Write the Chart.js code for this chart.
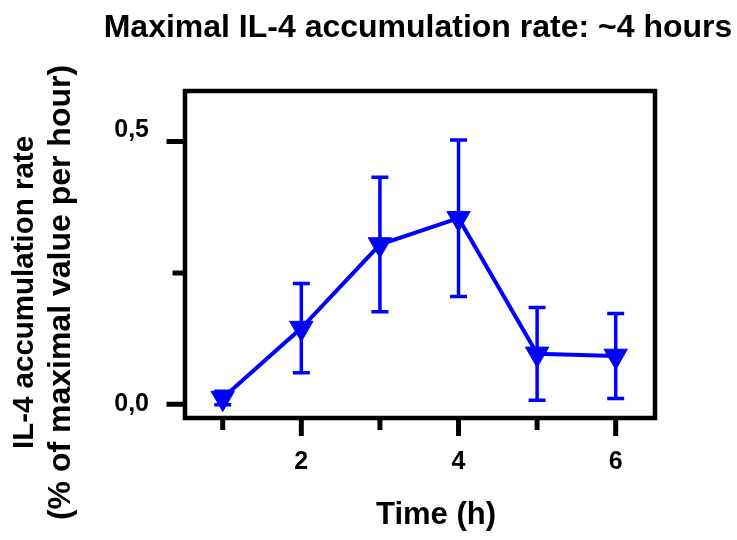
<!DOCTYPE html>
<html>
<head>
<meta charset="utf-8">
<script src="https://cdn.jsdelivr.net/npm/chart.js@4.4.1/dist/chart.umd.min.js"></script>
<style>
  html, body { margin: 0; padding: 0; background: #fff; }
</style>
</head>
<body>
<canvas id="chart" width="737" height="540"></canvas>
<script>
// data
const hours = [1, 2, 3, 4, 5, 6];
const rate = [0.012, 0.145, 0.304, 0.354, 0.096, 0.092];
const rateErr = [0.013, 0.085, 0.128, 0.149, 0.088, 0.081];
const xTicks = [1, 2, 3, 4, 5, 6];
const xLabels = ['', '2', '', '4', '', '6'];
const yTicks = [0, 0.25, 0.5];
const yLabels = ['0,0', '', '0,5'];

const titleText = 'Maximal IL-4 accumulation rate: ~4 hours';
const xTitle = 'Time (h)';
const yTitle = ['IL-4 accumulation rate', '(% of maximal value per hour)'];

const blue = '#0000ff';
const fam = '"Liberation Sans", Arial, Helvetica, sans-serif';

// tick label font
Chart.defaults.font.family = fam;
Chart.defaults.font.size = 25;
Chart.defaults.font.weight = 'bold';
Chart.defaults.font.lineHeight = 0.9;
Chart.defaults.color = '#000';

// box, tick marks, error bars and titles
const decor = {
  id: 'decor',
  afterDatasetsDraw(chart) {
    const { ctx, scales: { x, y } } = chart;
    ctx.save();
    ctx.strokeStyle = blue;
    ctx.lineWidth = 3.5;
    hours.forEach((h, i) => {
      const px = x.getPixelForValue(h);
      const top = y.getPixelForValue(rate[i] + rateErr[i]);
      const bot = y.getPixelForValue(rate[i] - rateErr[i]);
      ctx.beginPath();
      ctx.moveTo(px, top); ctx.lineTo(px, bot);
      ctx.moveTo(px - 8.5, top); ctx.lineTo(px + 8.5, top);
      ctx.moveTo(px - 8.5, bot); ctx.lineTo(px + 8.5, bot);
      ctx.stroke();
    });
    ctx.restore();
  },
  afterDraw(chart) {
    const { ctx, chartArea: a, scales: { x, y } } = chart;
    ctx.save();
    ctx.strokeStyle = '#000';
    ctx.lineWidth = 4.5;
    ctx.strokeRect(a.left, a.top, a.right - a.left, a.bottom - a.top);

    ctx.lineWidth = 5;
    ctx.beginPath();
    yTicks.forEach((v, i) => {
      const py = y.getPixelForValue(v);
      const len = yLabels[i] ? 18.5 : 12.5;
      ctx.moveTo(a.left - len, py); ctx.lineTo(a.left, py);
    });
    xTicks.forEach((v, i) => {
      const px = x.getPixelForValue(v);
      const len = xLabels[i] ? 18 : 12;
      ctx.moveTo(px, a.bottom); ctx.lineTo(px, a.bottom + len);
    });
    ctx.stroke();

    ctx.fillStyle = '#000';
    ctx.textAlign = 'center';
    ctx.textBaseline = 'alphabetic';
    ctx.font = 'bold 32px ' + fam;
    ctx.fillText(titleText, 418, 37);
    ctx.font = 'bold 31px ' + fam;
    ctx.fillText(xTitle, 436, 524);

    const ySizes = [29.5, 32];
    [33, 70].forEach((bx, i) => {
      ctx.save();
      ctx.font = 'bold ' + ySizes[i] + 'px ' + fam;
      ctx.translate(bx, 292.5);
      ctx.rotate(-Math.PI / 2);
      ctx.fillText(yTitle[i], 0, 0);
      ctx.restore();
    });
    ctx.restore();
  }
};

new Chart(document.getElementById('chart'), {
  type: 'line',
  data: {
    datasets: [{
      data: hours.map((h, i) => ({ x: h, y: rate[i] })),
      borderColor: blue,
      backgroundColor: blue,
      borderWidth: 4,
      tension: 0,
      pointStyle: 'triangle',
      rotation: 180,
      pointRadius: 13.5,
      pointHoverRadius: 13.5,
      pointBorderWidth: 1,
      pointBackgroundColor: blue,
      pointBorderColor: blue
    }]
  },
  options: {
    responsive: false,
    animation: false,
    devicePixelRatio: 1,
    layout: { padding: { top: 91, right: 82, left: 0, bottom: 0 } },
    plugins: { legend: { display: false }, tooltip: { enabled: false } },
    scales: {
      x: {
        type: 'linear',
        min: 0.52,
        max: 6.5,
        grid: { display: false },
        border: { display: false },
        afterBuildTicks: s => { s.ticks = xTicks.map(v => ({ value: v })); },
        afterFit: s => { s.height = 122; },
        ticks: {
          autoSkip: false,
          maxRotation: 0,
          padding: 25,
          color: '#000',
          callback: (v, i) => xLabels[i]
        }
      },
      y: {
        min: -0.026,
        max: 0.596,
        grid: { display: false },
        border: { display: false },
        afterBuildTicks: s => { s.ticks = yTicks.map(v => ({ value: v })); },
        afterFit: s => { s.width = 185; },
        ticks: {
          autoSkip: false,
          padding: 28,
          color: '#000',
          // top label sits a little above its tick in the original
          callback: (v, i) => (i === yTicks.length - 1 ? [yLabels[i], ''] : yLabels[i])
        }
      }
    }
  },
  plugins: [decor]
});
</script>
</body>
</html>
